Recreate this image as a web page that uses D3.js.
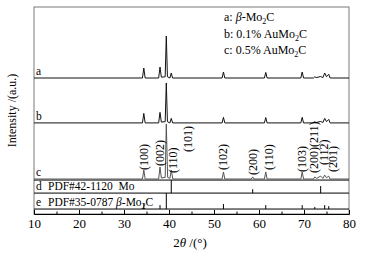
<!DOCTYPE html>
<html>
<head>
<meta charset="utf-8">
<script src="https://cdn.jsdelivr.net/npm/d3@7"></script>
<style>
  body { margin: 0; background: #fff; }
  svg text { font-family: "Liberation Serif", "Times New Roman", serif; fill: #000; }
</style>
</head>
<body>
<svg width="366" height="256"></svg>
<script>
// 2theta / intensity pairs (a.u.)
var patternA = [[10,0],[34.1,0],[34.4,4.8],[34.7,0],[37.7,0],[38.0,5.3],[38.3,0.4],[39.15,0.6],[39.4,20.3],[39.65,0.6],[40.2,0],[40.5,2.4],[40.8,0],
  [51.8,0],[52.1,2.9],[52.4,0],[61.2,0],[61.5,2.7],[61.8,0],[69.3,0],[69.6,2.9],[69.9,0],[72.1,0],[72.4,0.6],[72.7,0.2],[73.7,0.7],[74.2,0.2],
  [74.6,2.4],[75.0,0.6],[75.5,1.8],[75.8,0],[80,0]];
var patternB = [[10,0],[34.1,0],[34.4,4.6],[34.7,0],[37.7,0],[38.0,5.1],[38.3,0.4],[39.15,0.6],[39.4,19.3],[39.65,0.6],[40.2,0],[40.5,2.2],[40.8,0],
  [51.8,0],[52.1,2.7],[52.4,0],[61.2,0],[61.5,2.6],[61.8,0],[69.3,0],[69.6,2.7],[69.9,0],[72.1,0],[72.4,0.6],[72.7,0.2],[73.7,0.7],[74.2,0.2],
  [74.6,2.2],[75.0,0.6],[75.5,1.7],[75.8,0],[80,0]];
var patternC = [[10,0],[34.1,0],[34.4,4.3],[34.7,0],[37.7,0],[38.0,5.8],[38.3,0.5],[39.15,0.8],[39.4,26.6],[39.7,0.8],[40.2,0.3],[40.5,4.3],[40.85,0],
  [51.8,0],[52.1,3.4],[52.4,0],[58.3,0],[58.6,1.0],[58.9,0],[61.2,0],[61.5,3.4],[61.8,0],[69.3,0],[69.6,3.4],[69.9,0],[72.1,0],[72.4,1.0],[72.8,0.3],
  [73.7,1.4],[74.2,0.3],[74.6,1.9],[75.0,0.6],[75.5,1.4],[75.8,0],[80,0]];
var offsets = { a: 65.7, b: 44.0, c: 16.9 };

// reference sticks
var moPos = [40.5, 58.6, 73.7];
var moInt = [6.3, 1.9, 3.4];
var mo2cPos = [34.4, 38.0, 39.4, 52.1, 61.5, 69.6, 72.4, 74.6, 75.5];
var mo2cInt = [2.9, 1.9, 7.7, 2.4, 1.9, 1.9, 1.0, 1.9, 1.4];
var refLines = [16.4, 10.1, 2.4]; // d top, d base / e top, e base

// hkl labels on pattern c
var hklText = ["(100)", "(002)", "(110)", "(101)", "(102)", "(200)", "(110)", "(103)", "(200)(211)", "(112)", "(201)"];
var hklPos = [34.4, 38.0, 40.9, 44.2, 52.1, 58.6, 62.3, 69.6, 72.3, 74.4, 76.5];
var hklY = [21.3, 23.2, 19.8, 30.0, 21.3, 18.8, 21.3, 20.3, 19.8, 23.7, 20.3];

var xTicks = [10, 20, 30, 40, 50, 60, 70, 80];
var xMinor = [15, 25, 35, 45, 55, 65, 75];

var svg = d3.select("svg"),
    margin = { top: 7, right: 17, bottom: 42, left: 34 },
    width = +svg.attr("width") - margin.left - margin.right,
    height = +svg.attr("height") - margin.top - margin.bottom;

var x = d3.scaleLinear().domain([10, 80]).range([0, width]),
    y = d3.scaleLinear().domain([0, 100]).range([height, 0]);

var g = svg.append("g").attr("transform", "translate(" + margin.left + "," + margin.top + ")");

// frame
g.append("rect").attr("width", width).attr("height", height)
  .attr("fill", "none").attr("stroke", "#7a7a7a").attr("stroke-width", 1);

// reference box lines
g.selectAll(".refline").data(refLines).enter().append("line")
  .attr("x1", 0).attr("x2", width)
  .attr("y1", function(d) { return y(d); }).attr("y2", function(d) { return y(d); })
  .attr("stroke", "#000").attr("stroke-width", 1);

function sticks(pos, inten, base) {
  g.selectAll(null).data(pos).enter().append("line")
    .attr("x1", function(d) { return x(d); }).attr("x2", function(d) { return x(d); })
    .attr("y1", y(base))
    .attr("y2", function(d, i) { return y(base + inten[i]); })
    .attr("stroke", "#000").attr("stroke-width", 1);
}
sticks(moPos, moInt, refLines[1]);
sticks(mo2cPos, mo2cInt, refLines[2]);

// patterns
function pattern(data, off, color) {
  var line = d3.line()
    .x(function(d) { return x(d[0]); })
    .y(function(d) { return y(d[1] + off); });
  g.append("path").datum(data).attr("d", line)
    .attr("fill", "none").attr("stroke", color).attr("stroke-width", 1)
    .attr("stroke-linejoin", "round");
}
pattern(patternA, offsets.a, "#111");
pattern(patternB, offsets.b, "#111");
pattern(patternC, offsets.c, "#555");

// hkl labels
g.selectAll(".hkl").data(hklText).enter().append("text")
  .attr("transform", function(d, i) { return "translate(" + x(hklPos[i]) + "," + y(hklY[i]) + ") rotate(-90)"; })
  .attr("dominant-baseline", "central")
  .style("font-size", "12px")
  .text(function(d) { return d; });

// x axis
g.append("g")
  .attr("transform", "translate(0," + height + ")")
  .call(d3.axisBottom(x).tickValues(xMinor).tickSize(-2.5).tickFormat(""))
  .call(function(a) { a.select(".domain").remove(); });
var xa = g.append("g")
  .attr("transform", "translate(0," + height + ")")
  .call(d3.axisBottom(x).tickValues(xTicks).tickSize(-4).tickPadding(5).tickFormat(d3.format("d")));
xa.select(".domain").attr("stroke", "#000");
xa.selectAll("text").style("font-size", "13px").attr("fill", "#000");

// axis titles
var xl = svg.append("text")
  .attr("x", 190).attr("y", 247).attr("text-anchor", "middle")
  .style("font-size", "13px");
xl.append("tspan").text("2");
xl.append("tspan").style("font-style", "italic").text("θ");
xl.append("tspan").text(" /(°)");

svg.append("text")
  .attr("transform", "translate(16," + (margin.top + height / 2) + ") rotate(-90)")
  .attr("text-anchor", "middle")
  .style("font-size", "12px")
  .text("Intensity /(a.u.)");

// pattern letters
var letters = [["a", offsets.a], ["b", offsets.b], ["c", offsets.c]];
g.selectAll(".letter").data(letters).enter().append("text")
  .attr("x", 2).attr("y", function(d) { return y(d[1]) - 3; })
  .style("font-size", "11.5px")
  .text(function(d) { return d[0]; });

g.append("text").attr("x", 2).attr("y", y(refLines[1]) - 3).style("font-size", "11.5px").text("d");
g.append("text").attr("x", 14).attr("y", y(refLines[1]) - 3).style("font-size", "11.5px")
  .style("white-space", "pre").text("PDF#42-1120  Mo");
g.append("text").attr("x", 2).attr("y", y(refLines[2]) - 3).style("font-size", "11.5px").text("e");
var et = g.append("text").attr("x", 14).attr("y", y(refLines[2]) - 3).style("font-size", "11.5px")
  .style("white-space", "pre");
et.append("tspan").text("PDF#35-0787 ");
et.append("tspan").style("font-style", "italic").text("β");
et.append("tspan").text("-Mo");
et.append("tspan").attr("dy", 3).style("font-size", "8px").text("2");
et.append("tspan").attr("dy", -3).text("C");

// legend
var legend = [["a: ", true, "-Mo", ""], ["b: 0.1% ", false, "AuMo", ""], ["c: 0.5% ", false, "AuMo", ""]];
legend.forEach(function(d, i) {
  var t = svg.append("text").attr("x", 224).attr("y", 21 + i * 16.5).style("font-size", "12px");
  t.append("tspan").text(d[0]);
  if (d[1]) t.append("tspan").style("font-style", "italic").text("β");
  t.append("tspan").text(d[2]);
  t.append("tspan").attr("dy", 3).style("font-size", "8px").text("2");
  t.append("tspan").attr("dy", -3).text("C");
});
</script>
</body>
</html>
